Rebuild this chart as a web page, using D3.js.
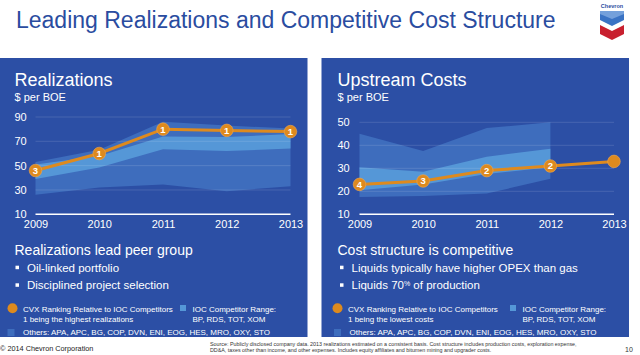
<!DOCTYPE html>
<html><head><meta charset="utf-8">
<script src="https://cdn.jsdelivr.net/npm/d3@7"></script>
<style>
html,body{margin:0;padding:0;background:#fff;}
svg{display:block;font-family:"Liberation Sans",Arial,sans-serif;}
</style></head>
<body><svg id="c" width="640" height="355"></svg>
<script>
// ---- data ----
const years = [2009, 2010, 2011, 2012, 2013];

const realTicks = [10, 30, 50, 70, 90];
const cvxReal = [46, 60, 80, 79, 78];
const cvxRealRank = [3, 1, 1, 1, 1];
const iocRealLow = [39, 48.5, 63.5, 62, 64];
const iocRealHigh = [51, 58, 74, 73.5, 76];
const othRealLow = [26, 32, 34.5, 29, 33];
const othRealHigh = [53, 63, 86, 83, 80.5];

const costTicks = [10, 20, 30, 40, 50];
const cvxCost = [23, 24.5, 29, 31, 33];
const cvxCostRank = [4, 3, 2, 2, null];
const iocCostLow = [20.5, 23, 27.5, 30.5, null];
const iocCostHigh = [30.5, 28.5, 35, 38.5, null];
const othCostLow = [17.5, 18, 19, 25.5, null];
const othCostHigh = [45, 37.5, 47.5, 50, null];

// ---- styles ----
const PANEL = "#2C4FA5", DARK = "#3E6DBD", LIGHT = "#5597D7", ORANGE = "#DE8A1E", TITLE = "#2A4CA0";
const svg = d3.select("#c");

// title
svg.append("text").attr("x", 16).attr("y", 27.7).attr("font-size", 23).attr("fill", TITLE)
  .text("Leading Realizations and Competitive Cost Structure");

// logo
const logo = svg.append("g");
logo.append("text").attr("x", 612).attr("y", 8).attr("text-anchor", "middle").attr("font-size", 5.5)
  .attr("font-weight", "bold").attr("fill", TITLE).text("Chevron");
logo.append("path").attr("d", "M600,11 L624,11 L624,20 L612,26 L600,20 Z").attr("fill", "#3A73C4");
logo.append("path").attr("d", "M600,11 L624,11 L624,14 L612,19 L600,14 Z").attr("fill", "#8DB4E6").attr("opacity", 0.7);
logo.append("path").attr("d", "M600,25 L612,31 L624,25 L624,34 L612,40 L600,34 Z").attr("fill", "#C8202F");

function panel(cfg) {
  const g = svg.append("g");
  g.append("rect").attr("x", cfg.x0).attr("y", 58).attr("width", cfg.x1 - cfg.x0).attr("height", 279).attr("fill", PANEL);
  g.append("text").attr("x", cfg.tx).attr("y", 86).attr("font-size", 18).attr("fill", "#fff").text(cfg.title);
  g.append("text").attr("x", cfg.tx).attr("y", 101.3).attr("font-size", 11).attr("fill", "#fff").text("$ per BOE");

  const x = d3.scalePoint().domain(years).range(cfg.xr);
  const y = d3.scaleLinear().domain(cfg.dom).range([214.3, cfg.ytop]);

  const idx = years.map((d, i) => i);
  const area = (lo, hi) => d3.area().defined(i => hi[i] != null)
      .x(i => x(years[i])).y0(i => y(lo[i])).y1(i => y(hi[i]));
  g.append("path").attr("d", area(cfg.othLow, cfg.othHigh)(idx)).attr("fill", DARK);
  g.append("path").attr("d", area(cfg.iocLow, cfg.iocHigh)(idx)).attr("fill", LIGHT);

  // gridlines
  cfg.ticks.forEach(t => {
    if (t === cfg.dom[0]) return;
    g.append("line").attr("x1", cfg.xr[0]).attr("x2", cfg.xr[1]).attr("y1", y(t)).attr("y2", y(t))
      .attr("stroke", "#fff").attr("stroke-opacity", 0.13).attr("stroke-width", 1);
  });
  g.append("line").attr("x1", cfg.xr[0]).attr("x2", cfg.xr[1]).attr("y1", y(cfg.dom[0])).attr("y2", y(cfg.dom[0]))
    .attr("stroke", "#fff").attr("stroke-width", 1.6);

  // axes
  const ya = d3.axisLeft(y).tickValues(cfg.ticks).tickSize(0).tickPadding(0);
  const yg = g.append("g").attr("transform", `translate(${cfg.tx},0)`).call(ya);
  yg.select(".domain").remove();
  yg.selectAll("text").attr("text-anchor", "start").attr("x", 0).attr("dy", "0.32em")
    .attr("font-size", 11).attr("fill", "#fff").attr("font-family", null);
  const xa = d3.axisBottom(x).tickSize(0).tickPadding(0).tickFormat(d3.format("d"));
  const xg = g.append("g").attr("transform", "translate(0,220)").call(xa);
  xg.select(".domain").remove();
  xg.selectAll("text").attr("dy", "0.71em").attr("font-size", 11).attr("fill", "#fff").attr("font-family", null);

  // CVX line
  g.append("path").attr("d", d3.line().x((d, i) => x(years[i])).y(d => y(d))(cfg.cvx))
    .attr("fill", "none").attr("stroke", ORANGE).attr("stroke-width", 3);
  const pts = g.selectAll(".pt").data(cfg.cvx).enter().append("g")
    .attr("transform", (d, i) => `translate(${x(years[i])},${y(d)})`);
  pts.append("circle").attr("r", 6.3).attr("fill", ORANGE).attr("stroke", "#F0A850").attr("stroke-width", 0.6);
  pts.append("text").attr("text-anchor", "middle").attr("dy", "0.36em").attr("font-size", 9.5)
    .attr("font-weight", "bold").attr("fill", "#fff").text((d, i) => cfg.rank[i] == null ? "" : cfg.rank[i]);

  // subtitle & bullets
  g.append("text").attr("x", cfg.tx).attr("y", 255).attr("font-size", 14).attr("fill", "#fff").text(cfg.sub);
  cfg.bullets.forEach((b, i) => {
    const by = 271.7 + i * 17.6;
    g.append("rect").attr("x", cfg.bx).attr("y", by - 6).attr("width", 3.5).attr("height", 3.5).attr("fill", "#fff");
    const t = g.append("text").attr("x", cfg.bx + 11.5).attr("y", by).attr("font-size", 11.5).attr("fill", "#fff");
    if (typeof b === "object") {
      t.append("tspan").text(b.pre);
      t.append("tspan").attr("font-size", 7).attr("dy", -3.5).text(b.sup);
      t.append("tspan").attr("dy", 3.5).text(b.post);
    } else t.text(b);
  });

  // legend
  g.append("circle").attr("cx", cfg.lx + 5).attr("cy", 308.3).attr("r", 5).attr("fill", ORANGE);
  g.append("text").attr("x", cfg.lx + 15.5).attr("y", 311.5).attr("font-size", 8).attr("fill", "#fff")
    .text("CVX Ranking Relative to IOC Competitors");
  g.append("text").attr("x", cfg.lx + 15.5).attr("y", 321.5).attr("font-size", 8).attr("fill", "#fff").text(cfg.rankNote);
  g.append("rect").attr("x", cfg.sqx).attr("y", 305).attr("width", 6).attr("height", 6).attr("fill", LIGHT);
  g.append("text").attr("x", cfg.sqx + 12.5).attr("y", 311.5).attr("font-size", 8).attr("fill", "#fff").text("IOC Competitor Range:");
  g.append("text").attr("x", cfg.sqx + 12.5).attr("y", 321.5).attr("font-size", 8).attr("fill", "#fff").text("BP, RDS, TOT, XOM");
  g.append("rect").attr("x", cfg.ox).attr("y", 329).attr("width", 7).attr("height", 7).attr("fill", DARK);
  g.append("text").attr("x", cfg.ox + 15.5).attr("y", 334.5).attr("font-size", 8).attr("fill", "#fff")
    .text("Others:  APA, APC, BG, COP, DVN, ENI, EOG, HES, MRO, OXY, STO");
}

panel({x0: 0, x1: 307.5, tx: 14.5, xr: [35.5, 290.5], dom: [10, 90], ytop: 117, ticks: realTicks,
  title: "Realizations", cvx: cvxReal, rank: cvxRealRank,
  iocLow: iocRealLow, iocHigh: iocRealHigh, othLow: othRealLow, othHigh: othRealHigh,
  sub: "Realizations lead peer group", bx: 15.5,
  bullets: ["Oil-linked portfolio", "Disciplined project selection"],
  lx: 7.5, rankNote: "1 being the highest realizations", sqx: 180, ox: 7.5});

panel({x0: 321.5, x1: 629, tx: 337.5, xr: [359.5, 614], dom: [10, 50], ytop: 122.3, ticks: costTicks,
  title: "Upstream Costs", cvx: cvxCost, rank: cvxCostRank,
  iocLow: iocCostLow, iocHigh: iocCostHigh, othLow: othCostLow, othHigh: othCostHigh,
  sub: "Cost structure is competitive", bx: 340,
  bullets: ["Liquids typically have higher OPEX than gas", {pre: "Liquids 70", sup: "%", post: " of production"}],
  lx: 332.5, rankNote: "1 being the lowest costs", sqx: 510, ox: 334});

// footer
svg.append("text").attr("x", 0).attr("y", 351).attr("font-size", 7.3).attr("fill", "#222").text("© 2014 Chevron Corporation");
svg.append("text").attr("x", 210).attr("y", 345.5).attr("font-size", 5.35).attr("fill", "#333")
  .text("Source: Publicly disclosed company data. 2013 realizations estimated on a consistent basis. Cost structure includes production costs, exploration expense,");
svg.append("text").attr("x", 210).attr("y", 352).attr("font-size", 5.35).attr("fill", "#333")
  .text("DD&A, taxes other than income, and other expenses. Includes equity affiliates and bitumen mining and upgrader costs.");
svg.append("text").attr("x", 625).attr("y", 351.5).attr("font-size", 7).attr("fill", "#333").text("10");
</script></body></html>
